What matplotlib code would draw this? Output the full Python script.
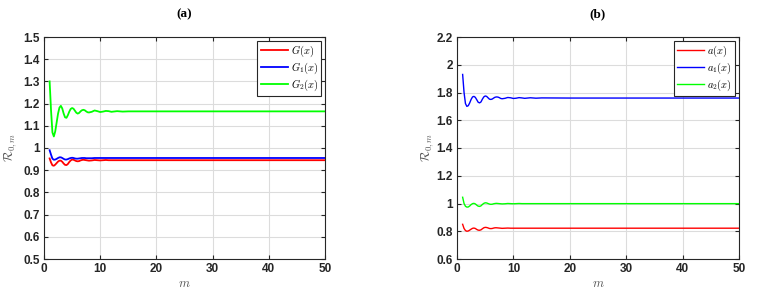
import matplotlib
matplotlib.use("Agg")
import matplotlib.pyplot as plt

m = [1.0, 1.25, 1.5, 1.75, 2.0, 2.25, 2.5, 2.75, 3.0, 3.25, 3.5, 3.75, 4.0, 4.25,
     4.5, 4.75, 5.0, 5.25, 5.5, 5.75, 6.0, 6.25, 6.5, 6.75, 7.0, 7.25, 7.5, 7.75, 8.0,
     8.5, 9.0, 9.5, 10, 10.5, 11, 11.5, 12, 13, 14, 15, 20, 30, 40, 50]

G = [0.953, 0.935, 0.922, 0.920, 0.925, 0.932, 0.939, 0.943, 0.943, 0.938, 0.930, 0.924,
     0.923, 0.928, 0.937, 0.944, 0.948, 0.947, 0.944, 0.941, 0.940, 0.941, 0.944, 0.946,
     0.947, 0.946, 0.945, 0.944, 0.943, 0.944, 0.946, 0.945, 0.944, 0.945, 0.946, 0.945,
     0.945, 0.945, 0.945, 0.945, 0.945, 0.945, 0.945, 0.945]
G1 = [0.990, 0.970, 0.952, 0.947, 0.948, 0.951, 0.955, 0.958, 0.958, 0.955, 0.951, 0.948,
      0.948, 0.950, 0.953, 0.955, 0.956, 0.955, 0.953, 0.952, 0.952, 0.953, 0.954, 0.955,
      0.955, 0.955, 0.954, 0.954, 0.954, 0.954, 0.955, 0.955, 0.955, 0.955, 0.955, 0.955,
      0.955, 0.955, 0.955, 0.955, 0.955, 0.955, 0.955, 0.955]
G2 = [1.300, 1.170, 1.070, 1.052, 1.075, 1.115, 1.155, 1.182, 1.190, 1.178, 1.155, 1.138,
      1.136, 1.148, 1.164, 1.176, 1.180, 1.177, 1.168, 1.159, 1.155, 1.158, 1.165, 1.170,
      1.172, 1.170, 1.165, 1.161, 1.160, 1.163, 1.169, 1.166, 1.162, 1.164, 1.167, 1.166,
      1.163, 1.166, 1.164, 1.165, 1.165, 1.165, 1.165, 1.165]

a = [0.850, 0.820, 0.805, 0.800, 0.802, 0.808, 0.815, 0.821, 0.823, 0.820, 0.813, 0.808,
     0.807, 0.810, 0.818, 0.825, 0.828, 0.827, 0.824, 0.820, 0.819, 0.820, 0.823, 0.825,
     0.825, 0.824, 0.823, 0.822, 0.821, 0.822, 0.823, 0.822, 0.822, 0.822, 0.822, 0.822,
     0.822, 0.822, 0.822, 0.822, 0.822, 0.822, 0.822, 0.822]
a1 = [1.930, 1.800, 1.720, 1.700, 1.705, 1.725, 1.750, 1.768, 1.772, 1.765, 1.748, 1.730,
      1.725, 1.732, 1.752, 1.768, 1.775, 1.772, 1.762, 1.752, 1.750, 1.753, 1.760, 1.766,
      1.768, 1.767, 1.763, 1.757, 1.755, 1.758, 1.764, 1.762, 1.757, 1.759, 1.763, 1.761,
      1.758, 1.762, 1.759, 1.761, 1.760, 1.760, 1.760, 1.760]
a2 = [1.045, 1.000, 0.980, 0.974, 0.975, 0.982, 0.992, 0.999, 1.001, 0.997, 0.988, 0.981,
      0.979, 0.983, 0.993, 1.001, 1.005, 1.004, 1.000, 0.996, 0.994, 0.995, 0.998, 1.000,
      1.001, 1.000, 0.999, 0.998, 0.997, 0.998, 1.000, 0.999, 0.998, 0.999, 1.000, 0.999,
      0.999, 0.999, 0.999, 0.999, 0.999, 0.999, 0.999, 0.999]

labels_a = [r"$G(x)$", r"$G_1(x)$", r"$G_2(x)$"]
labels_b = [r"$a(x)$", r"$a_1(x)$", r"$a_2(x)$"]
yticks_a = [0.5, 0.6, 0.7, 0.8, 0.9, 1.0, 1.1, 1.2, 1.3, 1.4, 1.5]
yticklabels_a = ["0.5", "0.6", "0.7", "0.8", "0.9", "1", "1.1", "1.2", "1.3", "1.4", "1.5"]
yticks_b = [0.6, 0.8, 1.0, 1.2, 1.4, 1.6, 1.8, 2.0, 2.2]
yticklabels_b = ["0.6", "0.8", "1", "1.2", "1.4", "1.6", "1.8", "2", "2.2"]
xticks = [0, 10, 20, 30, 40, 50]

plt.rcParams['mathtext.fontset'] = 'cm'
colors = ['#ff0000', '#0000ff', '#00ff00']

fig = plt.figure(figsize=(7.6, 2.96), dpi=100)
axA = fig.add_axes([44/760, 1-259/296, 281/760, 222/296])
axB = fig.add_axes([457/760, 1-259/296, 282/760, 222/296])

tickfont = {'family': 'Liberation Sans', 'weight': 'bold', 'size': 8.5}

def style(ax, yt, ytl, ylim, title, lw, series, labels, ylx):
    for s, lab, c in zip(series, labels, colors):
        ax.plot(m, s, color=c, lw=lw, label=lab)
    ax.set_xlim(0, 50)
    ax.set_ylim(*ylim)
    ax.set_xticks(xticks)
    ax.set_xticklabels([str(t) for t in xticks], fontdict=tickfont)
    ax.set_yticks(yt)
    ax.set_yticklabels(ytl, fontdict=tickfont)
    ax.grid(True, color='#dcdcdc', lw=0.8)
    ax.set_axisbelow(True)
    ax.tick_params(direction='in', top=True, right=True, length=3, width=0.8,
                   pad=3, colors='#262626')
    for sp in ax.spines.values():
        sp.set_color('#262626')
        sp.set_linewidth(0.8)
    ax.set_xlabel(r"$m$", fontsize=9, color='#555555', labelpad=1)
    ax.set_ylabel(r"$\mathcal{R}_{0,m}$", fontsize=9, color='#555555')
    ax.yaxis.set_label_coords(ylx, 0.5)
    ax.set_title(title, fontsize=9.5, fontweight='bold',
                 family=['Liberation Serif', 'DejaVu Serif'], pad=14)
    leg = ax.legend(loc='upper right', fontsize=7.5, frameon=True, fancybox=False,
                    borderpad=0.3, labelspacing=0.15, handlelength=2.6,
                    handletextpad=0.3, borderaxespad=0.35)
    leg.get_frame().set_edgecolor('#262626')
    leg.get_frame().set_linewidth(0.8)
    leg.get_frame().set_alpha(1)

style(axA, yticks_a, yticklabels_a, (0.5, 1.5), "(a)", 1.3, [G, G1, G2], labels_a, -0.088)
style(axB, yticks_b, yticklabels_b, (0.6, 2.2), "(b)", 1.0, [a, a1, a2], labels_b, -0.076)

fig.savefig("out.png", dpi=100)
